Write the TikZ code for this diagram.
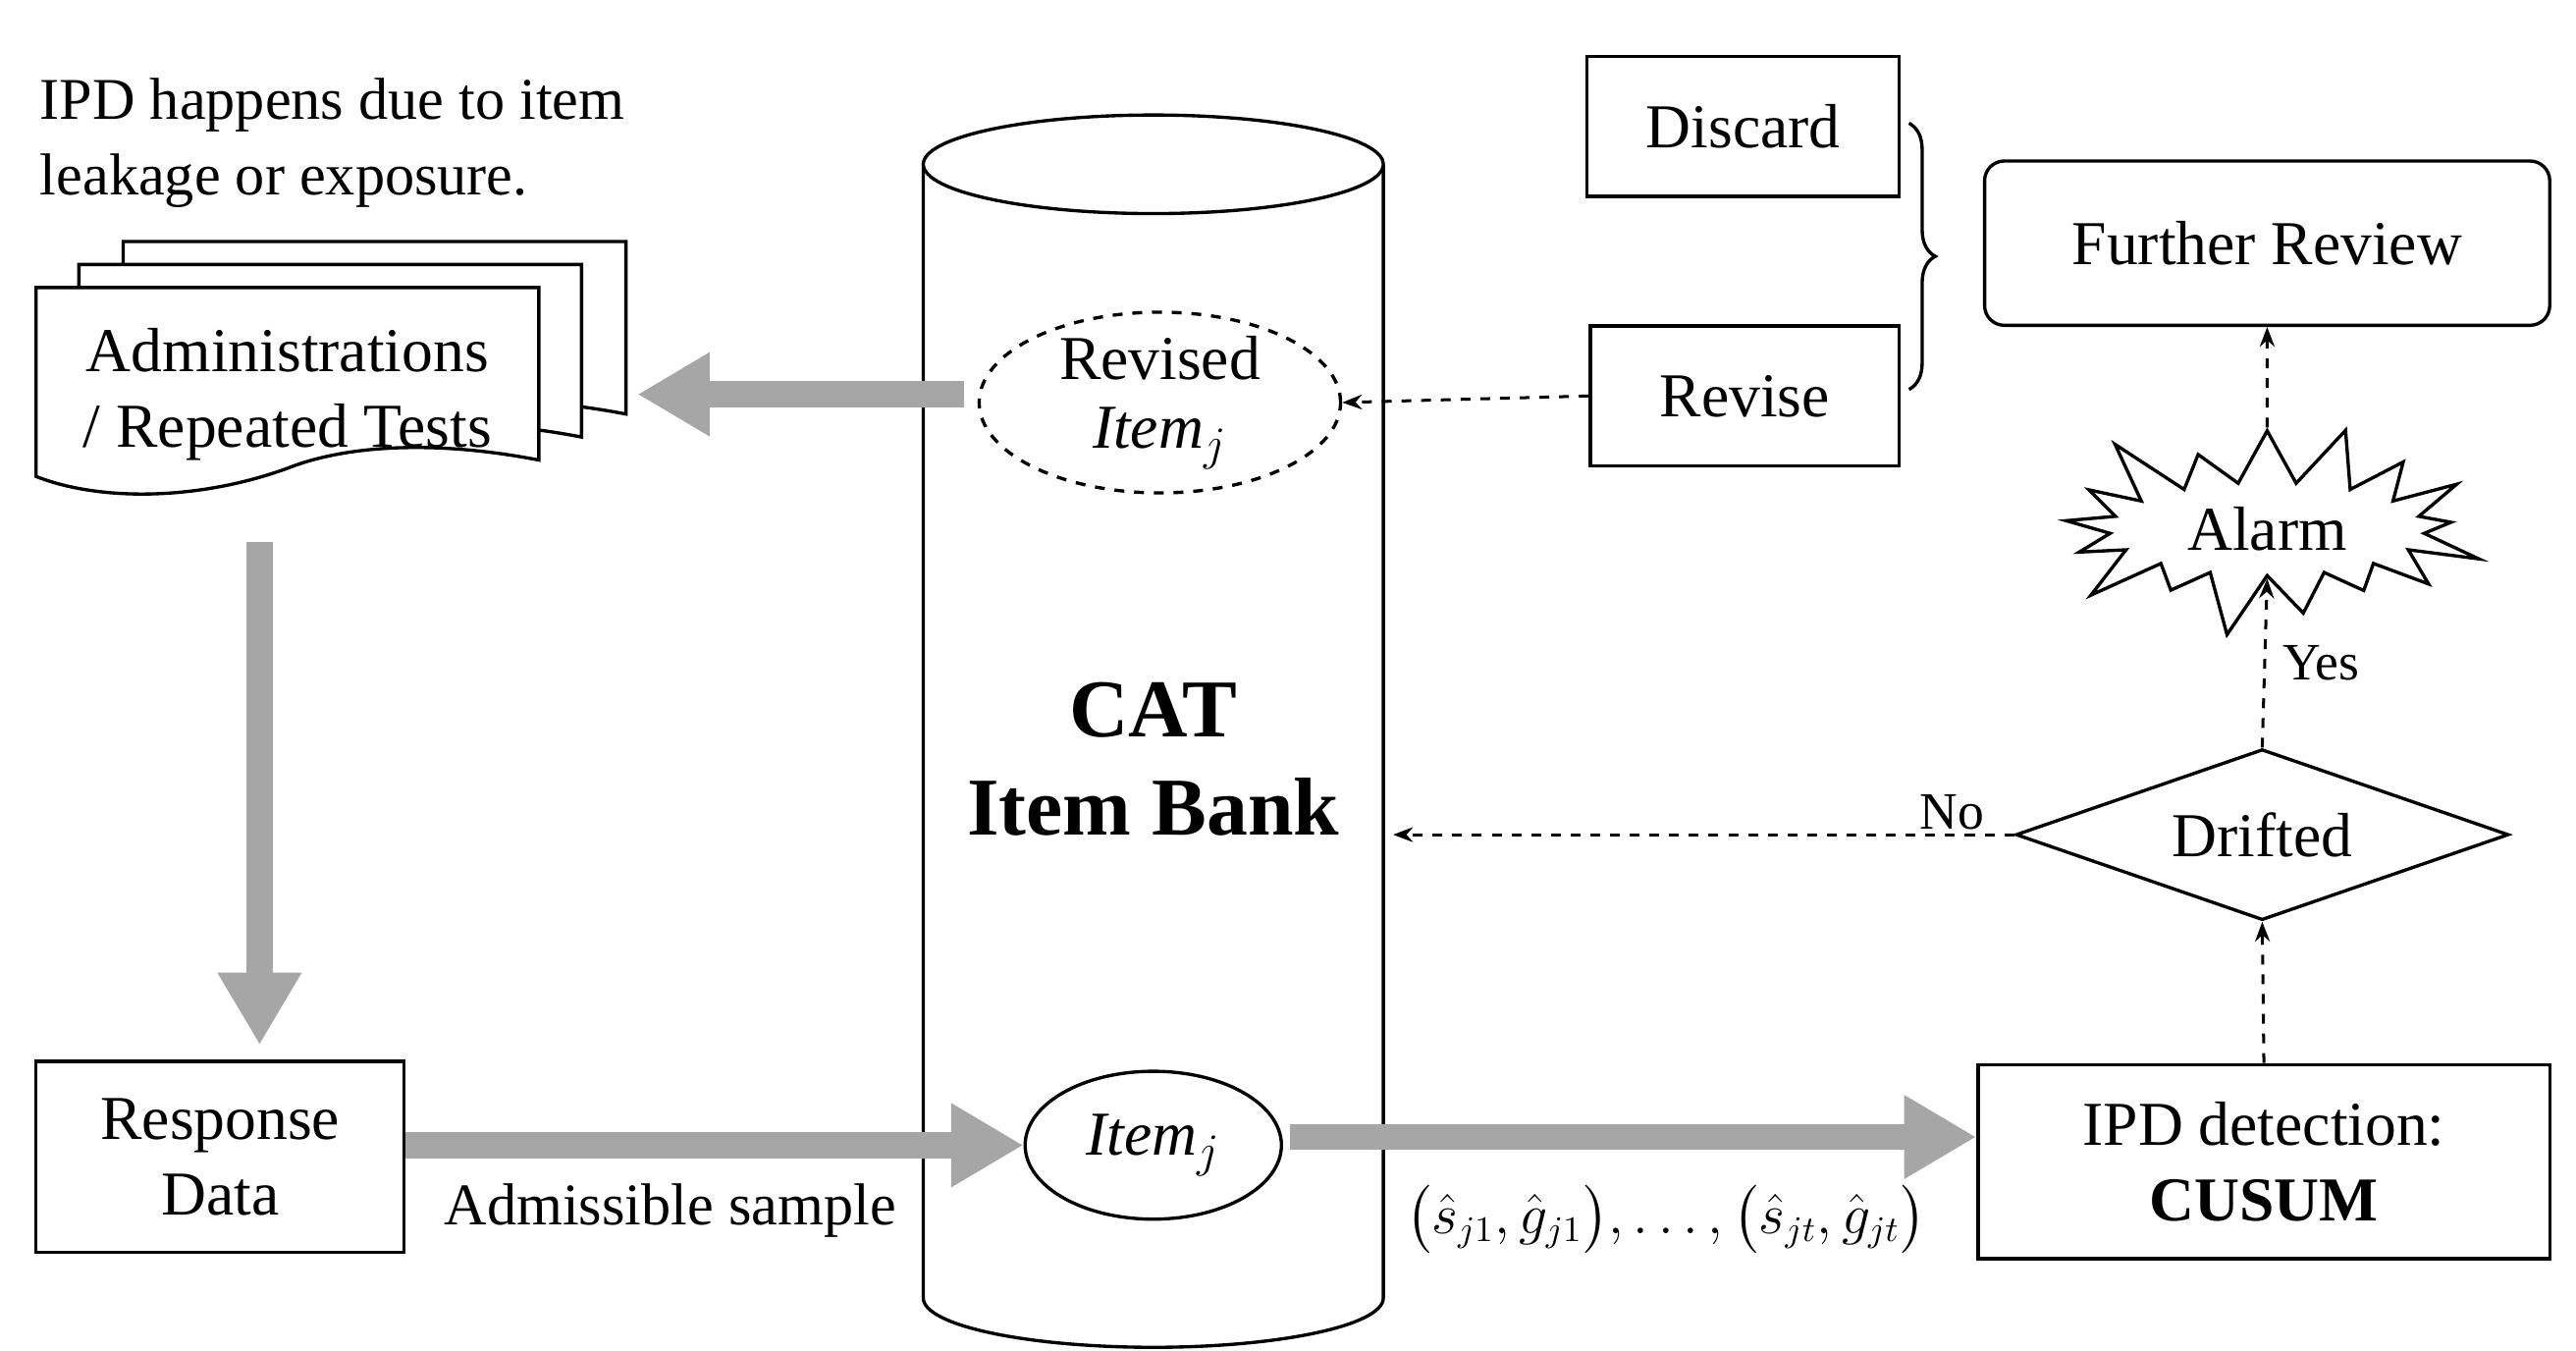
\documentclass[tikz,border=0pt]{standalone}
\usepackage{fontspec}
\usepackage{amsmath}
\setmainfont{Liberation Serif}
\usetikzlibrary{shapes.geometric,shapes.symbols,arrows.meta,decorations.pathreplacing}
\tikzset{
	box/.style = {rectangle, draw, line width=1pt, align=center, inner sep=0pt},
	oval/.style = {ellipse, draw, line width=1pt, inner sep=0pt},
	bigarrow/.style = {draw=black!35, line width=8pt, -{Triangle[length=22pt,width=24pt]}},
	dashline/.style = {draw, line width=0.9pt, dashed, -{Stealth[length=6pt]}},
	lbl/.style = {inner sep=1pt}
}
\begin{document}
\begin{tikzpicture}[x=0.5pt,y=-0.5pt,font=\fontsize{19}{23}\selectfont]
	\useasboundingbox (0,0) rectangle (1568,822);
	
	%note
	\node [lbl, anchor=north west, align=left, font=\fontsize{18}{23}\selectfont] (note) at (22,45) {IPD happens due to item\\leakage or exposure.};
	
	%stacked pages
	\foreach \dx/\dy in {53/-28, 26/-14, 0/0} {
		\draw [line width=1pt, fill=white, shift={(\dx,\dy)}] (22,175) -- (328,175) -- (328,280)
			.. controls (250,265) and (200,275) .. (175,285)
			.. controls (120,305) and (60,305) .. (22,290) -- cycle;
	}
	\node [lbl, align=center] (admin) at (175,240) {Administrations\\/ Repeated Tests};
	
	%item bank
	\draw [line width=1pt, fill=white] (562,100) -- (562,790) arc (180:0:140 and 30) -- (842,100);
	\draw [line width=1pt, fill=white] (702,100) ellipse (140 and 30);
	\coordinate (bank) at (848,508);
	\node [font=\fontsize{25}{30}\selectfont\bfseries, align=center] (cat) at (702,462) {CAT\\Item Bank};
	\node [oval, dashed, minimum width=110pt, minimum height=55pt] (revised) at (706,245) {};
	\node [lbl, align=center] at (706,245) {Revised\\[-2pt]$\mathit{Item}_j$};
	\node [oval, minimum width=78pt, minimum height=45pt] (item) at (702,697) {$\mathit{Item}_j$};
	
	%review side
	\node [box, minimum width=95pt, minimum height=42.5pt] (discard) at (1061,77) {Discard};
	\node [box, minimum width=94pt, minimum height=42.5pt] (revise) at (1062,241) {Revise};
	\node [box, rounded corners=6pt, minimum width=172pt, minimum height=50pt] (review) at (1380,148) {Further Review};
	\draw [line width=1pt, decorate, decoration={brace, amplitude=8pt}] (1162,75) -- (1162,237);
	\node [starburst, draw, line width=1pt, fill=white, minimum width=140pt, minimum height=72pt, starburst point height=22pt] (alarm) at (1380,322) {Alarm};
	\node [diamond, draw, line width=1pt, aspect=2.9, minimum width=150pt, minimum height=52pt, inner sep=0pt] (drifted) at (1377,508) {Drifted};
	\node [box, minimum width=174pt, minimum height=59pt] (cusum) at (1378,707) {IPD detection:\\\textbf{CUSUM}};
	\node [box, minimum width=112pt, minimum height=58pt] (response) at (134,704) {Response\\Data};
	
	%flows
	\path [bigarrow] (587,240) -- (388,240);
	\path [bigarrow] (158,330) -- (158,636);
	\path [bigarrow] (response.east |- 0,697) -- (item.west);
	\path [bigarrow] (785,692) -- (cusum.west |- 0,692);
	\node [lbl, font=\fontsize{18}{20}\selectfont] at (408,737) {Admissible sample};
	\node [lbl, font=\fontsize{16}{20}\selectfont] at (1014,742) {$\big(\hat{s}_{j1},\hat{g}_{j1}\big),\dots,\big(\hat{s}_{jt},\hat{g}_{jt}\big)$};
	
	\path [dashline] (revise.west) -- (revised.east);
	\path [dashline] (drifted.west) -- (bank) node [lbl, pos=0.1, above, font=\fontsize{16}{20}\selectfont] {No};
	\path [dashline] (drifted.north) -- (alarm.south) node [lbl, midway, right=4pt, font=\fontsize{16}{20}\selectfont] {Yes};
	\path [dashline] (cusum.north) -- (drifted.south);
	\path [dashline] (alarm.north) -- (review.south);
\end{tikzpicture}
\end{document}
